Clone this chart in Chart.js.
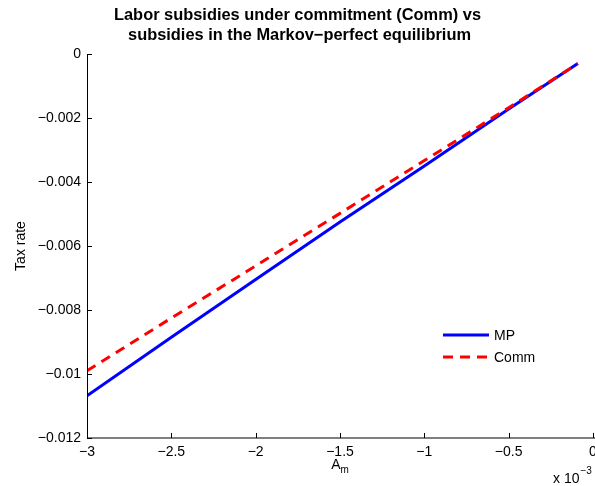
<!DOCTYPE html>
<html>
<head>
<meta charset="utf-8">
<script src="https://cdn.jsdelivr.net/npm/chart.js@4.4.0/dist/chart.umd.min.js"></script>
<style>
  html, body { margin: 0; padding: 0; background: #fff; overflow: hidden; }
  #wrap { width: 595px; height: 486px; }
</style>
</head>
<body>
<div id="wrap"><canvas id="c" width="595" height="486"></canvas></div>
<script>
// A_m grid (in units of 1e-3) and tax rates for both regimes
const amValues  = [-3, -2.5, -2, -1.5, -1, -0.5, -0.09];
const mpRates   = [-0.01068, -0.00885, -0.00705, -0.00525, -0.00350, -0.00172, -0.00030];
const commRates = [-0.00990, -0.00825, -0.00662, -0.00498, -0.00333, -0.00168, -0.00030];

// Axis ticks and their labels
const xTicks = [-3, -2.5, -2, -1.5, -1, -0.5, 0];
const xTickLabels = ['\u22123', '\u22122.5', '\u22122', '\u22121.5', '\u22121', '\u22120.5', '0'];
const yTicks = [-0.012, -0.010, -0.008, -0.006, -0.004, -0.002, 0];
const yTickLabels = ['\u22120.012', '\u22120.01', '\u22120.008', '\u22120.006', '\u22120.004', '\u22120.002', '0'];

const titleLines = ['Labor subsidies under commitment (Comm) vs', 'subsidies in the Markov\u2212perfect equilibrium'];
const seriesNames = ['MP', 'Comm'];

const FONT = '"Liberation Sans", Arial, Helvetica, sans-serif';

const toPoints = (ys) => amValues.map((v, i) => ({ x: v, y: ys[i] }));

// Title, axis lines, inward tick marks, axis captions and legend
const decor = {
  id: 'decor',
  afterDraw(chart) {
    const { ctx, chartArea: a, scales: { x, y } } = chart;
    ctx.save();
    ctx.fillStyle = '#000';
    ctx.strokeStyle = '#000';
    ctx.lineWidth = 1;

    // axes
    ctx.beginPath();
    ctx.moveTo(a.left + 0.5, a.top);
    ctx.lineTo(a.left + 0.5, a.bottom);
    ctx.moveTo(a.left, a.bottom);
    ctx.lineTo(a.right + 2, a.bottom);
    ctx.stroke();

    // tick marks pointing into the plot
    ctx.beginPath();
    yTicks.forEach(v => {
      const py = Math.round(y.getPixelForValue(v)) + 0.5;
      ctx.moveTo(a.left, py);
      ctx.lineTo(a.left + 5, py);
    });
    xTicks.forEach(v => {
      const px = Math.round(x.getPixelForValue(v)) + 0.5;
      ctx.moveTo(px, a.bottom);
      ctx.lineTo(px, a.bottom - 5);
    });
    ctx.stroke();

    // title, centred on the page
    ctx.font = 'bold 16.4px ' + FONT;
    ctx.textAlign = 'center';
    ctx.textBaseline = 'alphabetic';
    ctx.fillText(titleLines[0], 297.5, 19.5);
    ctx.fillText(titleLines[1], 299.5, 39.5);

    // x caption A_m
    const cx = (a.left + a.right) / 2;
    ctx.font = '14px ' + FONT;
    ctx.textAlign = 'left';
    const aW = ctx.measureText('A').width;
    ctx.font = '10px ' + FONT;
    const mW = ctx.measureText('m').width;
    const startX = cx - (aW + mW) / 2;
    ctx.font = '14px ' + FONT;
    ctx.fillText('A', startX, 469);
    ctx.font = '10px ' + FONT;
    ctx.fillText('m', startX + aW, 473);

    // exponent note
    ctx.font = '14px ' + FONT;
    ctx.fillText('x 10', 553, 483);
    const xw = ctx.measureText('x 10').width;
    ctx.font = '10px ' + FONT;
    ctx.fillText('\u22123', 553 + xw + 1, 474);

    // y caption
    ctx.save();
    ctx.translate(24.5, (a.top + a.bottom) / 2);
    ctx.rotate(-Math.PI / 2);
    ctx.font = '14px ' + FONT;
    ctx.textAlign = 'center';
    ctx.fillText('Tax rate', 0, 0);
    ctx.restore();

    // legend
    const lx0 = 443, lx1 = 489, tx = 494;
    const rows = [
      { name: seriesNames[0], color: '#0000ff', dash: [], yy: 335 },
      { name: seriesNames[1], color: '#ff0000', dash: [10, 7], yy: 357 }
    ];
    rows.forEach(r => {
      ctx.save();
      ctx.strokeStyle = r.color;
      ctx.lineWidth = 3;
      ctx.setLineDash(r.dash);
      ctx.beginPath();
      ctx.moveTo(lx0, r.yy);
      ctx.lineTo(lx1, r.yy);
      ctx.stroke();
      ctx.restore();
      ctx.font = '14px ' + FONT;
      ctx.textAlign = 'left';
      ctx.textBaseline = 'middle';
      ctx.fillStyle = '#000';
      ctx.fillText(r.name, tx, r.yy + 1);
    });
    ctx.restore();
  }
};

new Chart(document.getElementById('c'), {
  type: 'line',
  data: {
    datasets: [
      {
        label: seriesNames[0],
        data: toPoints(mpRates),
        borderColor: '#0000ff',
        borderWidth: 3,
        pointRadius: 0,
        tension: 0,
        fill: false,
        order: 1
      },
      {
        label: seriesNames[1],
        data: toPoints(commRates),
        borderColor: '#ff0000',
        borderWidth: 3,
        borderDash: [10, 7],
        pointRadius: 0,
        tension: 0,
        fill: false,
        order: 0
      }
    ]
  },
  options: {
    responsive: false,
    animation: false,
    devicePixelRatio: 1,
    layout: { padding: { top: 54, right: 2, left: 0, bottom: 0 } },
    plugins: {
      legend: { display: false },
      title: { display: false },
      tooltip: { enabled: false }
    },
    scales: {
      x: {
        type: 'linear',
        min: -3,
        max: 0,
        grid: { display: false, drawTicks: false },
        border: { display: false },
        afterBuildTicks: (s) => { s.ticks = xTicks.map(v => ({ value: v })); },
        afterFit: (s) => { s.height = 48; s.paddingLeft = 0; s.paddingRight = 0; },
        ticks: {
          autoSkip: false,
          maxRotation: 0,
          padding: 6,
          color: '#000',
          font: { family: FONT, size: 14 },
          callback: (v, i) => xTickLabels[i]
        }
      },
      y: {
        type: 'linear',
        min: -0.012,
        max: 0,
        grid: { display: false, drawTicks: false },
        border: { display: false },
        afterBuildTicks: (s) => { s.ticks = yTicks.map(v => ({ value: v })); },
        afterFit: (s) => { s.width = 87; s.paddingTop = 0; s.paddingBottom = 0; },
        ticks: {
          autoSkip: false,
          padding: 6,
          color: '#000',
          font: { family: FONT, size: 14 },
          callback: (v, i) => yTickLabels[i]
        }
      }
    }
  },
  plugins: [decor]
});
</script>
</body>
</html>
